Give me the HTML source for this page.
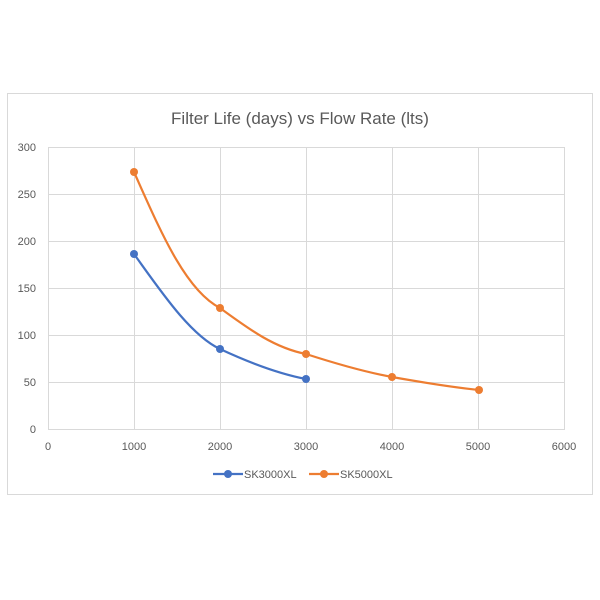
<!DOCTYPE html>
<html><head><meta charset="utf-8"><style>
html,body{margin:0;padding:0;background:#fff}
svg{display:block}
text{font-family:"Liberation Sans",sans-serif;fill:#595959}
</style></head><body>
<svg width="600" height="600" viewBox="0 0 600 600">
<rect x="7.5" y="93.5" width="585" height="401" fill="#fff" stroke="#d9d9d9" stroke-width="1"/>
<text x="300" y="124" font-size="17" text-anchor="middle">Filter Life (days) vs Flow Rate (lts)</text>
<g stroke="#d9d9d9" stroke-width="1">
<line x1="48" y1="147.5" x2="565" y2="147.5"/>
<line x1="48" y1="194.5" x2="565" y2="194.5"/>
<line x1="48" y1="241.5" x2="565" y2="241.5"/>
<line x1="48" y1="288.5" x2="565" y2="288.5"/>
<line x1="48" y1="335.5" x2="565" y2="335.5"/>
<line x1="48" y1="382.5" x2="565" y2="382.5"/>
<line x1="48" y1="429.5" x2="565" y2="429.5"/>
<line x1="48.5" y1="147" x2="48.5" y2="429"/>
<line x1="134.5" y1="147" x2="134.5" y2="429"/>
<line x1="220.5" y1="147" x2="220.5" y2="429"/>
<line x1="306.5" y1="147" x2="306.5" y2="429"/>
<line x1="392.5" y1="147" x2="392.5" y2="429"/>
<line x1="478.5" y1="147" x2="478.5" y2="429"/>
<line x1="564.5" y1="147" x2="564.5" y2="429"/>
</g>
<g font-size="11" text-anchor="end">
<text x="36" y="151">300</text><text x="36" y="198">250</text><text x="36" y="245">200</text>
<text x="36" y="292">150</text><text x="36" y="339">100</text><text x="36" y="386">50</text><text x="36" y="433">0</text>
</g>
<g font-size="11" text-anchor="middle">
<text x="48" y="450">0</text><text x="134" y="450">1000</text><text x="220" y="450">2000</text>
<text x="306" y="450">3000</text><text x="392" y="450">4000</text><text x="478" y="450">5000</text><text x="564" y="450">6000</text>
</g>
<path d="M134,254 C160,290 190,335 220,349 C250,363 280,374 306,379" fill="none" stroke="#4472c4" stroke-width="2.2"/>
<path d="M134,172 C160,230 185,290 220,308 C250,330 275,348 306,354 C340,365 365,372 392,377 C420,382 450,387 479,390" fill="none" stroke="#ed7d31" stroke-width="2.2"/>
<g fill="#4472c4"><circle cx="134" cy="254" r="4"/><circle cx="220" cy="349" r="4"/><circle cx="306" cy="379" r="4"/></g>
<g fill="#ed7d31"><circle cx="134" cy="172" r="4"/><circle cx="220" cy="308" r="4"/><circle cx="306" cy="354" r="4"/><circle cx="392" cy="377" r="4"/><circle cx="479" cy="390" r="4"/></g>
<line x1="213" y1="474" x2="243" y2="474" stroke="#4472c4" stroke-width="2.2"/><circle cx="228" cy="474" r="4" fill="#4472c4"/>
<text x="244" y="478" font-size="11">SK3000XL</text>
<line x1="309" y1="474" x2="339" y2="474" stroke="#ed7d31" stroke-width="2.2"/><circle cx="324" cy="474" r="4" fill="#ed7d31"/>
<text x="340" y="478" font-size="11">SK5000XL</text>
</svg>
</body></html>
